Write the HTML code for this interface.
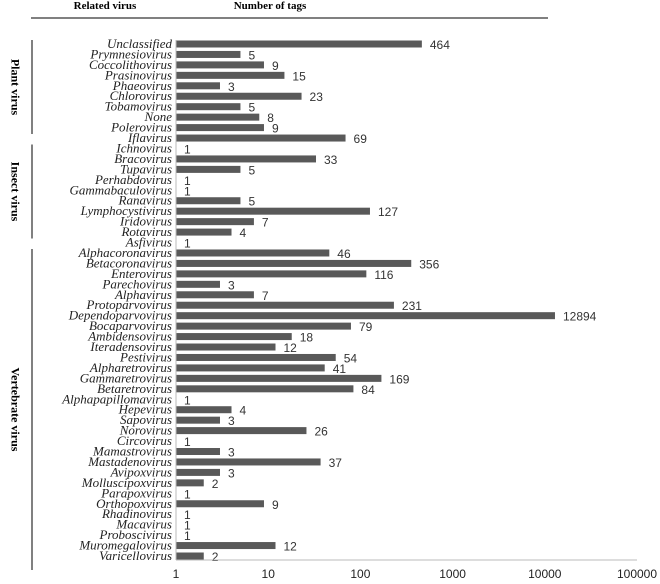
<!DOCTYPE html>
<html><head><meta charset="utf-8"><style>
body{margin:0;background:#fff;width:660px;height:579px;overflow:hidden}
svg text{font-family:"Liberation Serif",serif}
</style></head><body>
<svg id="chart" width="660" height="579">
<text x="105" y="9" font-size="11" font-weight="bold" text-anchor="middle">Related virus</text>
<text x="270" y="9" font-size="11" font-weight="bold" text-anchor="middle">Number of tags</text>
<line x1="31" y1="18" x2="548" y2="18" stroke="#000" stroke-width="1"/>
<g id="groups"></g>
<g id="bars"></g>
<line x1="176" y1="40" x2="176" y2="560" stroke="#bbb"/>
<line x1="176" y1="560" x2="637" y2="560" stroke="#bbb"/>
<g id="ticks"></g>
</svg>
<script>
const categories=["Unclassified","Prymnesiovirus","Coccolithovirus","Prasinovirus","Phaeovirus","Chlorovirus","Tobamovirus","None","Polerovirus","Iflavirus","Ichnovirus","Bracovirus","Tupavirus","Perhabdovirus","Gammabaculovirus","Ranavirus","Lymphocystivirus","Iridovirus","Rotavirus","Asfivirus","Alphacoronavirus","Betacoronavirus","Enterovirus","Parechovirus","Alphavirus","Protoparvovirus","Dependoparvovirus","Bocaparvovirus","Ambidensovirus","Iteradensovirus","Pestivirus","Alpharetrovirus","Gammaretrovirus","Betaretrovirus","Alphapapillomavirus","Hepevirus","Sapovirus","Norovirus","Circovirus","Mamastrovirus","Mastadenovirus","Avipoxvirus","Molluscipoxvirus","Parapoxvirus","Orthopoxvirus","Rhadinovirus","Macavirus","Proboscivirus","Muromegalovirus","Varicellovirus"];
const values=[464,5,9,15,3,23,5,8,9,69,1,33,5,1,1,5,127,7,4,1,46,356,116,3,7,231,12894,79,18,12,54,41,169,84,1,4,3,26,1,3,37,3,2,1,9,1,1,1,12,2];
const tickLabels=["1","10","100","1000","10000","100000"];
const groupNames=["Plant virus","Insect virus","Vertebrate virus"];
const groupStart=[0,10,20];
const groupEnd=[9,19,49];

const NS="http://www.w3.org/2000/svg";
const x0=176,perDec=92.2,yTop=44,step=(556-44)/(categories.length-1);
const xs=v=>x0+Math.log10(v)*perDec;
const ys=i=>yTop+i*step;
function mk(tag,at,p){const e=document.createElementNS(NS,tag);for(const k in at)e.setAttribute(k,at[k]);p.appendChild(e);return e;}
const bars=document.getElementById('bars');
categories.forEach((c,i)=>{
  const y=ys(i);
  const t=mk('text',{x:172,y:y+4,'font-size':13,'font-style':'italic','text-anchor':'end',fill:'#222'},bars);
  t.textContent=c;
  
  
  const w=xs(values[i])-x0;
  if(w>0){const r=mk('rect',{x:x0,y:y-3.5,width:w,height:7,fill:'#595959'},bars);
  
  }
  const v=mk('text',{x:xs(values[i])+8,y:y+5,'font-size':12,fill:'#333',style:'font-family:"Liberation Sans",sans-serif'},bars);
  v.textContent=values[i];
  
  
});
const ticks=document.getElementById('ticks');
tickLabels.forEach((l,i)=>{
  const t=mk('text',{x:x0+i*perDec,y:578,'font-size':12,'text-anchor':'middle',fill:'#222',style:'font-family:"Liberation Sans",sans-serif'},ticks);
  t.textContent=l;
  
  
});
const groups=document.getElementById('groups');
groupNames.forEach((g,i)=>{
  const y1=ys(groupStart[i])-4,y2=ys(groupEnd[i])+(i==2?14:-4);
  const l=mk('line',{x1:32,x2:32,y1:y1,y2:y2,stroke:'#000'},groups);
  
  
  const cy=(y1+y2)/2;
  const t=mk('text',{x:14,y:cy,'font-size':12,'font-weight':'bold','text-anchor':'middle',transform:`rotate(90 14 ${cy})`,'dominant-baseline':'middle'},groups);
  t.textContent=g;
  
  
});
</script>
</body></html>
